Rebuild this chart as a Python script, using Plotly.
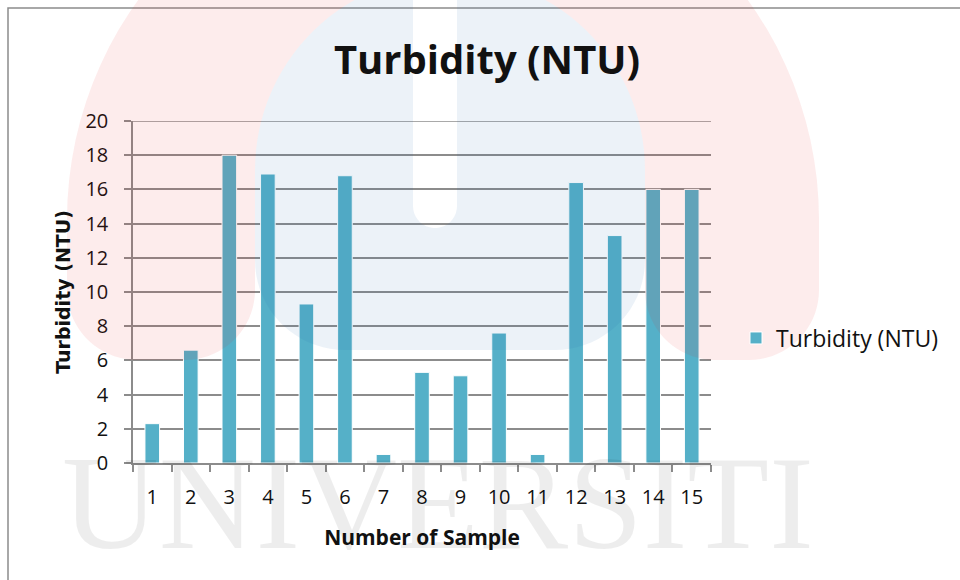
import numpy as np
import plotly.graph_objects as go

# ---- data -------------------------------------------------------------
samples = [str(i) for i in range(1, 16)]
turbidity = [2.3, 6.6, 18.0, 16.9, 9.3, 16.8, 0.5, 5.3, 5.1, 7.6, 0.5, 16.4, 13.3, 16.0, 16.0]
y_ticks = list(range(0, 21, 2))

series_name = "Turbidity (NTU)"
chart_title = "Turbidity (NTU)"
x_title = "Number of Sample"
y_title = "Turbidity (NTU)"
watermark_text = "UNIVERSITI"

# ---- layout geometry (pixels) ----------------------------------------
W, H = 960, 580
PL, PR, PT, PB = 133, 711, 121, 463   # plot area edges
GRID = "#8c8c8c"


def px(x):
    return (x - PL) / (PR - PL)


def py(y):
    return (PB - y) / (PB - PT)


def arc(cx, cy, r, a0, a1, n=60):
    t = np.linspace(a0, a1, n)
    return [(cx + r * np.cos(a), cy - r * np.sin(a)) for a in t]


def to_path(points, close=True):
    s = "M " + " L ".join(f"{px(x):.4f},{py(y):.4f}" for x, y in points)
    return s + (" Z" if close else "")


# background logo: red horseshoe, blue centre with a white slot
rc = 70
horse = []
horse += arc(443, 220, 376, np.pi, 0)                       # outer top
horse += [(819, 290)]
horse += arc(749, 290, rc, 0, -np.pi / 2, 20)               # right leg bottom
horse += arc(715, 290, rc, -np.pi / 2, -np.pi, 20)
horse += [(645, 170)]
horse += arc(450, 170, 195, 0, np.pi)                       # inner arch
horse += [(255, 290)]
horse += arc(185, 290, rc, 0, -np.pi / 2, 20)               # left leg bottom
horse += arc(137, 290, rc, -np.pi / 2, -np.pi, 20)

br = 90
blue = []
blue += arc(450, 170, 195, np.pi, 0)
blue += [(645, 260)]
blue += arc(555, 260, br, 0, -np.pi / 2, 20)
blue += arc(345, 260, br, -np.pi / 2, -np.pi, 20)

slot = [(413, -20), (457, -20)]
slot += arc(435, 206, 22, 0, -np.pi, 20)

shapes = [
    dict(type="path", xref="paper", yref="paper", layer="above",
         path=to_path(horse), fillcolor="rgba(230,40,40,0.085)", line=dict(width=0)),
    dict(type="path", xref="paper", yref="paper", layer="above",
         path=to_path(blue) + " " + to_path(slot),
         fillcolor="rgba(30,100,170,0.085)", line=dict(width=0)),
    # chart frame
    dict(type="rect", xref="paper", yref="paper", layer="below",
         x0=px(8), y0=py(8), x1=px(W + 20), y1=py(H + 20),
         line=dict(color=GRID, width=1.5), fillcolor="rgba(0,0,0,0)"),
    # top gridline at the end of the value range
    dict(type="line", xref="paper", yref="y", layer="below",
         x0=0, x1=1, y0=y_ticks[-1], y1=y_ticks[-1],
         line=dict(color=GRID, width=1.5)),
]

fig = go.Figure()
fig.add_trace(go.Bar(
    x=samples, y=turbidity, name=series_name, showlegend=True,
    width=0.38,
    marker=dict(color="#55b0c8", line=dict(color="white", width=1)),
))

fig.update_layout(
    width=W, height=H,
    margin=dict(l=PL, r=W - PR, t=PT, b=H - PB),
    paper_bgcolor="white", plot_bgcolor="rgba(0,0,0,0)",
    font=dict(family="Open Sans, sans-serif", color="#111111"),
    title=dict(text=f"<b>{chart_title}</b>", x=px(487), xref="paper", xanchor="center",
               y=1 - 60 / H, yref="container", yanchor="middle",
               font=dict(family="Open Sans, sans-serif", size=40, color="#111111")),
    shapes=shapes,
    showlegend=True,
    legend=dict(x=px(736), y=py(338), xanchor="left", yanchor="middle",
                font=dict(family="Open Sans, sans-serif", size=23, color="#111111"),
                bgcolor="rgba(0,0,0,0)"),
    annotations=[
        dict(text=watermark_text, xref="paper", yref="paper", x=px(438), y=py(579),
             xanchor="center", yanchor="bottom", showarrow=False,
             font=dict(family="Liberation Serif, serif", size=134, color="rgba(0,0,0,0.07)")),
    ],
)

fig.update_xaxes(
    type="category",
    showline=True, linecolor=GRID, linewidth=1.5,
    ticks="outside", tickson="boundaries", ticklen=7, tickcolor=GRID, tickwidth=1.5,
    showgrid=False,
    tickfont=dict(family="Open Sans, sans-serif", size=20, color="#111111"),
    ticklabelstandoff=15,
    title=dict(text=f"<b>{x_title}</b>", standoff=22,
               font=dict(family="Open Sans, sans-serif", size=21, color="#111111")),
)
fig.update_yaxes(
    range=[0, 20], tickvals=y_ticks,
    showline=True, linecolor=GRID, linewidth=1.5,
    ticks="outside", ticklen=7, tickcolor=GRID, tickwidth=1.5,
    showgrid=True, gridcolor=GRID, gridwidth=1.5, zeroline=False,
    tickfont=dict(family="Open Sans, sans-serif", size=20, color="#111111"),
    ticklabelstandoff=12,
    title=dict(text=f"<b>{y_title}</b>", standoff=10,
               font=dict(family="DejaVu Sans, sans-serif", size=19, color="#111111")),
)

fig.write_html("out.html")
